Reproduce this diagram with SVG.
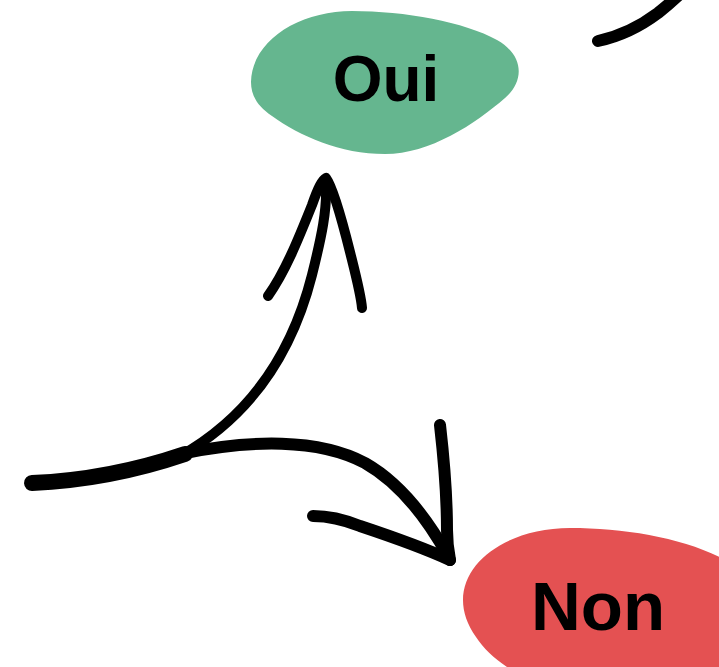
<svg xmlns="http://www.w3.org/2000/svg" width="719" height="667" viewBox="0 0 719 667">
<style>
.stroke{fill:none;stroke:#000;stroke-linecap:round;stroke-linejoin:round}
.lbl{font-family:"Liberation Sans",Arial,sans-serif;font-weight:bold;fill:#000;text-anchor:middle}
</style>
<rect width="719" height="667" fill="#fff"/>
<g id="node-oui">
<path d="M 251 82 C 252 40, 300 11, 352 11 C 405 11, 465 22, 497 40 C 525 56, 524 82, 505 98 C 475 124, 430 154, 385 154 C 340 154, 300 136, 272 116 C 257 106, 251 95, 251 82 Z" fill="#65B68F"/>
<text class="lbl" x="386" y="101" font-size="64">Oui</text>
</g>
<g id="node-non">
<path d="M 463 600 C 463 560, 510 528, 570 528 C 625 528, 685 538, 725 560 L 740 700 L 570 700 C 525 680, 492 662, 476 637 C 467 624, 463 612, 463 600 Z" fill="#E45152"/>
<text class="lbl" x="598" y="630" font-size="69">Non</text>
</g>
<g id="connectors">
<path class="stroke" stroke-width="16" d="M 32 483 C 80 481, 135 471, 185 454"/>
<path class="stroke" stroke-width="10" d="M 180 456 C 258 412, 295 342, 312 275 C 322 235, 327 210, 326 185"/>
<path class="stroke" stroke-width="10" d="M 268 296 C 285 272, 298 240, 312 205 C 318 188, 322 180, 326 178 C 332 186, 340 212, 350 252 C 356 276, 361 295, 362 308"/>
<path class="stroke" stroke-width="12" d="M 185 453 C 250 440, 318 438, 365 463 C 402 484, 428 520, 448 556"/>
<path class="stroke" stroke-width="12" d="M 440 425 C 444 460, 447 500, 447 530 C 447 545, 449 555, 450 560"/>
<path class="stroke" stroke-width="12" d="M 313 516 C 330 516, 345 520, 360 526 C 390 536, 420 546, 450 560"/>
<path class="stroke" stroke-width="12" d="M 598 41 C 617 37, 638 28, 658 13 C 668 5, 676 -2, 684 -10"/>
</g>
</svg>
